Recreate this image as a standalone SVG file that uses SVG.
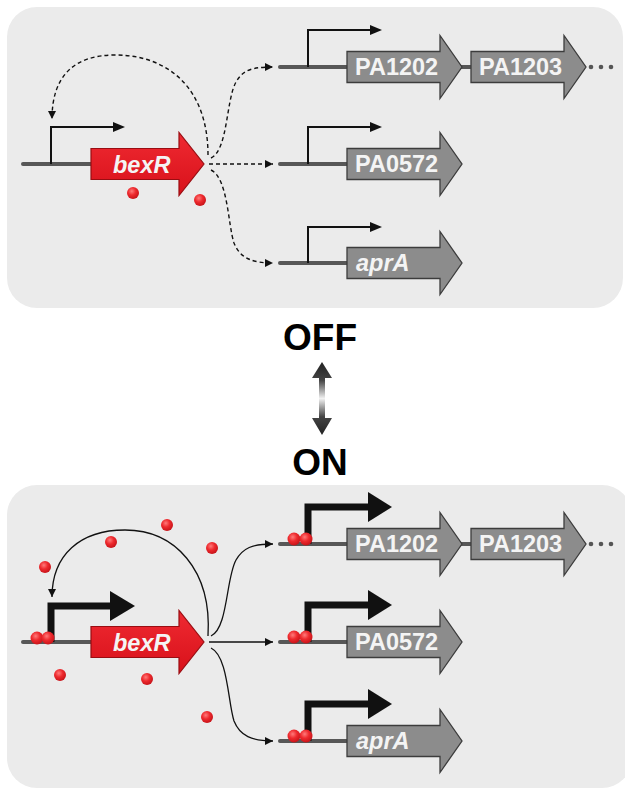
<svg xmlns="http://www.w3.org/2000/svg" xmlns:xlink="http://www.w3.org/1999/xlink" width="625" height="789" viewBox="0 0 625 789">
<style>
.panel{fill:#ebebeb}
.dna{stroke:#575757;stroke-width:4;stroke-linecap:round;fill:none}
.gene{fill:#8c8c8c;stroke:#3c3c3c;stroke-width:1.3}
.bex{fill:url(#redg);stroke:#9a0d12;stroke-width:1.2}
.gt{font-family:"Liberation Sans",Arial,sans-serif;font-weight:bold;font-size:23.5px;fill:#f4f4f4}
.it{font-style:italic}
.pth{fill:none;stroke:#111;stroke-width:2}
.ptk{fill:none;stroke:#111;stroke-width:7}
.ah{fill:#111}
.dash{fill:none;stroke:#111;stroke-width:1.4;stroke-dasharray:4 3;marker-end:url(#mk)}
.sol{fill:none;stroke:#111;stroke-width:1.3;marker-end:url(#mk)}
.dot{fill:url(#dotg)}
.sdot{fill:#555}
.lbl{font-family:"Liberation Sans",Arial,sans-serif;font-weight:bold;font-size:37px;fill:#000;text-anchor:middle}
</style>
<defs>
<linearGradient id="redg" x1="0" y1="0" x2="0" y2="1">
<stop offset="0" stop-color="#ef2a32"/>
<stop offset="1" stop-color="#d8111a"/>
</linearGradient>
<radialGradient id="dotg" cx="0.4" cy="0.35" r="0.65">
<stop offset="0" stop-color="#ff7a7a"/>
<stop offset="0.5" stop-color="#ee2a2e"/>
<stop offset="1" stop-color="#c8141a"/>
</radialGradient>
<linearGradient id="dblg" gradientUnits="userSpaceOnUse" x1="0" y1="362" x2="0" y2="435">
<stop offset="0" stop-color="#222"/>
<stop offset="0.25" stop-color="#444"/>
<stop offset="0.5" stop-color="#f2f2f2"/>
<stop offset="0.75" stop-color="#444"/>
<stop offset="1" stop-color="#222"/>
</linearGradient>
<marker id="mk" markerUnits="userSpaceOnUse" markerWidth="9" markerHeight="8" refX="8" refY="4" orient="auto">
<path d="M0,0 L8,4 L0,8 Z" fill="#111"/>
</marker>
<path id="gene" d="M0,-15.5 H93 V-31.5 L115,0 L93,31.5 V15.5 H0 Z"/>
<path id="bexr" d="M0,-15.5 H88 V-31.5 L113,0 L88,31.5 V15.5 H0 Z"/>
</defs>

<rect class="panel" x="7" y="7" width="616" height="301" rx="30"/>
<rect class="panel" x="7" y="485" width="625" height="303" rx="30"/>

<!-- OFF / ON switch -->
<g id="switch">
<text class="lbl" x="320" y="350">OFF</text>
<text class="lbl" x="320" y="475">ON</text>
<path d="M322,362 L332,378 L325,378 L325,418 L332,418 L322,435 L312,418 L319,418 L319,378 L312,378 Z" fill="url(#dblg)"/>
</g>

<!-- ===== OFF state ===== -->
<g id="off-bexR">
<line class="dna" x1="23" y1="164" x2="92" y2="164"/>
<path class="pth" d="M51,164 V127 H116"/>
<path class="ah" d="M113,122 L125,127 L113,132 Z"/>
<use href="#bexr" class="bex" x="91" y="164"/>
<text class="gt it" x="113" y="173">bexR</text>
<circle class="dot" cx="133" cy="193" r="6"/>
<circle class="dot" cx="200" cy="200" r="6"/>
</g>
<g id="off-PA1202">
<line class="dna" x1="280" y1="67" x2="348" y2="67"/>
<line class="dna" x1="461" y1="67" x2="472" y2="67"/>
<path class="pth" d="M308,67 V30 H373"/>
<path class="ah" d="M370,25 L382,30 L370,35 Z"/>
<use href="#gene" class="gene" x="347" y="67"/>
<text class="gt" x="355" y="75">PA1202</text>
</g>
<g id="off-PA1203">
<use href="#gene" class="gene" x="471" y="67"/>
<text class="gt" x="479" y="75">PA1203</text>
<circle class="sdot" cx="591" cy="67" r="2.3"/>
<circle class="sdot" cx="601" cy="67" r="2.3"/>
<circle class="sdot" cx="611" cy="67" r="2.3"/>
</g>
<g id="off-PA0572">
<line class="dna" x1="280" y1="164" x2="348" y2="164"/>
<path class="pth" d="M308,164 V127 H373"/>
<path class="ah" d="M370,122 L382,127 L370,132 Z"/>
<use href="#gene" class="gene" x="347" y="164"/>
<text class="gt" x="355" y="172">PA0572</text>
</g>
<g id="off-aprA">
<line class="dna" x1="280" y1="263" x2="348" y2="263"/>
<path class="pth" d="M308,263 V227 H373"/>
<path class="ah" d="M370,222 L382,227 L370,232 Z"/>
<use href="#gene" class="gene" x="347" y="263"/>
<text class="gt it" x="356" y="271">aprA</text>
</g>
<g id="off-connectors">
<path class="dash" d="M208,155 C208,90 170,55 115,55 C75,55 52,75 52,119"/>
<path class="dash" d="M211,158 C228,150 226,100 236,82 C243,70 252,67 273,67"/>
<path class="dash" d="M209,164 H273"/>
<path class="dash" d="M211,170 C228,178 228,225 234,243 C240,258 252,263 273,263"/>
</g>

<!-- ===== ON state ===== -->
<g id="on-bexR">
<line class="dna" x1="23" y1="642" x2="92" y2="642"/>
<path class="ptk" d="M51,642 V606 H112"/>
<path class="ah" d="M110,591 L135,606 L110,621 Z"/>
<use href="#bexr" class="bex" x="91" y="642"/>
<text class="gt it" x="113" y="651">bexR</text>
<circle class="dot" cx="37" cy="638" r="6.5"/>
<circle class="dot" cx="48" cy="638" r="6.5"/>
</g>
<g id="on-PA1202">
<line class="dna" x1="280" y1="544" x2="348" y2="544"/>
<line class="dna" x1="461" y1="544" x2="472" y2="544"/>
<path class="ptk" d="M308,544 V507 H370"/>
<path class="ah" d="M368,492 L392,507 L368,522 Z"/>
<circle class="dot" cx="294" cy="539" r="6.5"/>
<circle class="dot" cx="306" cy="539" r="6.5"/>
<use href="#gene" class="gene" x="347" y="544"/>
<text class="gt" x="355" y="552">PA1202</text>
</g>
<g id="on-PA1203">
<use href="#gene" class="gene" x="471" y="544"/>
<text class="gt" x="479" y="552">PA1203</text>
<circle class="sdot" cx="591" cy="544" r="2.3"/>
<circle class="sdot" cx="601" cy="544" r="2.3"/>
<circle class="sdot" cx="611" cy="544" r="2.3"/>
</g>
<g id="on-PA0572">
<line class="dna" x1="280" y1="642" x2="348" y2="642"/>
<path class="ptk" d="M308,642 V605 H370"/>
<path class="ah" d="M368,590 L392,605 L368,620 Z"/>
<circle class="dot" cx="294" cy="637" r="6.5"/>
<circle class="dot" cx="306" cy="637" r="6.5"/>
<use href="#gene" class="gene" x="347" y="642"/>
<text class="gt" x="355" y="650">PA0572</text>
</g>
<g id="on-aprA">
<line class="dna" x1="280" y1="741" x2="348" y2="741"/>
<path class="ptk" d="M308,741 V704 H370"/>
<path class="ah" d="M368,689 L392,704 L368,719 Z"/>
<circle class="dot" cx="294" cy="736" r="6.5"/>
<circle class="dot" cx="306" cy="736" r="6.5"/>
<use href="#gene" class="gene" x="347" y="741"/>
<text class="gt it" x="356" y="749">aprA</text>
</g>
<g id="on-free-bexR">
<circle class="dot" cx="45" cy="567" r="6"/>
<circle class="dot" cx="111" cy="542" r="6"/>
<circle class="dot" cx="167" cy="525" r="6"/>
<circle class="dot" cx="212" cy="548" r="6"/>
<circle class="dot" cx="60" cy="675" r="6"/>
<circle class="dot" cx="147" cy="679" r="6"/>
<circle class="dot" cx="207" cy="717" r="6"/>
</g>
<g id="on-connectors">
<path class="sol" d="M208,636 C212,570 175,530 125,530 C80,530 52,555 52,597"/>
<path class="sol" d="M211,636 C228,628 226,578 236,560 C243,548 252,544 273,544"/>
<path class="sol" d="M209,642 H273"/>
<path class="sol" d="M211,648 C228,656 228,703 234,721 C240,736 252,741 273,741"/>
</g>
</svg>
